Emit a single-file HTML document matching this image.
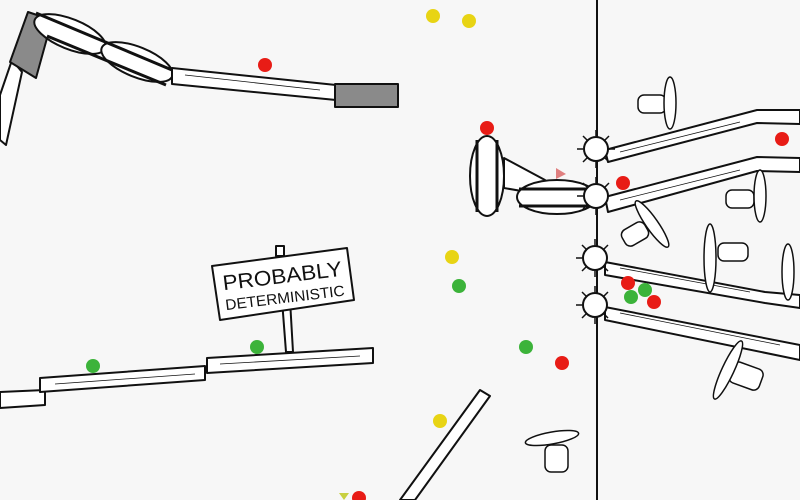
<!DOCTYPE html>
<html><head><style>
html,body{margin:0;padding:0;background:#f7f7f7}
svg{display:block}
</style></head><body>
<svg width="800" height="500" viewBox="0 0 800 500" xmlns="http://www.w3.org/2000/svg">
<rect width="800" height="500" fill="#f7f7f7"/>
<g stroke="#111" stroke-width="2" fill="#fff" stroke-linejoin="round">
<!-- top-left -->
<polygon points="0,140 0,95 12,60 22,72 6,145"/>
<polygon points="10,62 28,12 52,20 36,78" fill="#8a8a8a"/>
<ellipse cx="70" cy="34" rx="38" ry="15" transform="rotate(22 70 34)"/>
<ellipse cx="137" cy="62" rx="38" ry="15" transform="rotate(22 137 62)"/>
<line x1="36" y1="13" x2="172" y2="70" stroke-width="3"/>
<line x1="47" y1="36" x2="166" y2="85" stroke-width="3"/>
<polygon points="172,68 336,85 336,100 172,84"/>
<line x1="185" y1="75" x2="320" y2="90" stroke-width="0.8"/>
<rect x="335" y="84" width="63" height="23" fill="#8a8a8a"/>
<!-- center machine -->
<ellipse cx="487" cy="176" rx="17" ry="40"/>
<line x1="477" y1="140" x2="477" y2="212" stroke-width="3"/>
<line x1="497" y1="140" x2="497" y2="212" stroke-width="3"/>
<polygon points="504,158 545,180 545,195 504,188"/>
<ellipse cx="557" cy="197" rx="40" ry="17"/>
<line x1="519" y1="189" x2="595" y2="189" stroke-width="3"/>
<line x1="519" y1="206" x2="595" y2="206" stroke-width="3"/>
<!-- right planks -->
<polygon points="605,150 757,110 800,110 800,124 757,123 608,162"/>
<polygon points="605,197 757,157 800,158 800,172 757,171 608,212"/>
<polygon points="605,262 765,292 800,295 800,308 765,303 605,275"/>
<polygon points="605,307 800,345 800,360 605,320"/>
<g stroke-width="0.8" fill="none">
<line x1="620" y1="152" x2="740" y2="122"/><line x1="620" y1="200" x2="740" y2="170"/>
<line x1="620" y1="268" x2="750" y2="292"/><line x1="620" y1="313" x2="780" y2="345"/>
</g>
<!-- vertical line -->
<line x1="597" y1="0" x2="597" y2="500"/>
<g>
<circle cx="596" cy="149" r="12"/><circle cx="596" cy="196" r="12"/>
<circle cx="595" cy="258" r="12"/><circle cx="595" cy="305" r="12"/>
</g>
<g stroke-width="1.5">
<path d="M596,130v6M596,162v6M577,149h6M609,149h6M583,136l4,4M609,136l-4,4M583,162l4,-4M609,162l-4,-4"/>
<path d="M596,177v6M596,209v6M577,196h6M583,183l4,4M609,183l-4,4M583,209l4,-4"/>
<path d="M595,239v6M595,271v6M576,258h6M582,245l4,4M608,245l-4,4M582,271l4,-4M608,271l-4,-4"/>
<path d="M595,286v6M595,318v6M576,305h6M582,292l4,4M608,292l-4,4M582,318l4,-4M608,318l-4,-4"/>
</g>
<!-- fans -->
<g stroke-width="1.5">
<rect x="638" y="95" width="28" height="18" rx="6"/><ellipse cx="670" cy="103" rx="6" ry="26"/>
<rect x="726" y="190" width="28" height="18" rx="6"/><ellipse cx="760" cy="196" rx="6" ry="26"/>
<rect x="622" y="225" width="26" height="18" rx="6" transform="rotate(-30 635 234)"/><ellipse cx="652" cy="224" rx="6" ry="28" transform="rotate(-35 652 224)"/>
<rect x="718" y="243" width="30" height="18" rx="6"/><ellipse cx="710" cy="258" rx="6" ry="34"/>
<ellipse cx="788" cy="272" rx="6" ry="28"/>
<rect x="730" y="365" width="32" height="22" rx="6" transform="rotate(20 746 376)"/><ellipse cx="728" cy="370" rx="6" ry="32" transform="rotate(25 728 370)"/>
<rect x="545" y="445" width="23" height="27" rx="6"/><ellipse cx="552" cy="438" rx="27" ry="6" transform="rotate(-10 552 438)"/>
</g>
<!-- lower planks -->
<polygon points="0,392 45,390 45,405 0,408"/>
<polygon points="40,378 205,366 205,380 40,392"/>
<polygon points="207,358 373,348 373,363 207,373"/>
<polygon points="400,500 480,390 490,396 415,500"/>
<g stroke-width="0.8" fill="none"><line x1="55" y1="384" x2="195" y2="374"/><line x1="220" y1="364" x2="360" y2="356"/></g>
<!-- sign -->
<polygon points="282,300 290,300 293,352 286,352"/>
<rect x="276" y="246" width="8" height="10"/>
<polygon points="212,266 347,248 354,300 220,320"/>
</g>
<g font-family="'Liberation Sans',sans-serif" fill="#111" text-anchor="middle" transform="rotate(-7 283 282)">
<text x="283" y="283" font-size="21" textLength="120" lengthAdjust="spacingAndGlyphs">PROBABLY</text>
<text x="283" y="303" font-size="15" textLength="120" lengthAdjust="spacingAndGlyphs">DETERMINISTIC</text>
</g>
<!-- balls -->
<g>
<g fill="#e81c16"><circle cx="265" cy="65" r="7"/><circle cx="487" cy="128" r="7"/><circle cx="623" cy="183" r="7"/><circle cx="782" cy="139" r="7"/><circle cx="562" cy="363" r="7"/><circle cx="628" cy="283" r="7"/><circle cx="654" cy="302" r="7"/><circle cx="359" cy="498" r="7"/></g>
<g fill="#3cb33a"><circle cx="93" cy="366" r="7"/><circle cx="257" cy="347" r="7"/><circle cx="459" cy="286" r="7"/><circle cx="526" cy="347" r="7"/><circle cx="631" cy="297" r="7"/><circle cx="645" cy="290" r="7"/></g>
<g fill="#e8d414"><circle cx="433" cy="16" r="7"/><circle cx="469" cy="21" r="7"/><circle cx="452" cy="257" r="7"/><circle cx="440" cy="421" r="7"/></g>
<polygon points="556,168 566,174 556,179" fill="#e08080"/>
<polygon points="339,493 349,493 344,500" fill="#c8d040"/>
</g>
</svg>
</body></html>
